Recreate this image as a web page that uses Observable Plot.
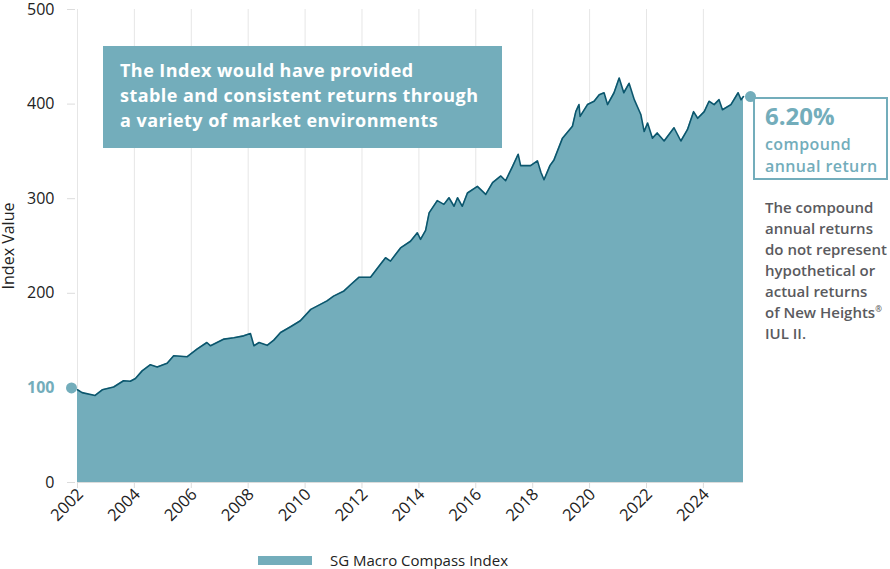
<!DOCTYPE html>
<html><head><meta charset="utf-8">
<script src="https://cdn.jsdelivr.net/npm/d3@7"></script>
<script src="https://cdn.jsdelivr.net/npm/@observablehq/plot@0.6"></script>
<style>
body{margin:0;background:#fff;font-family:"Open Sans",sans-serif;}
#wrap{position:relative;width:890px;height:569px;overflow:hidden;}
#wrap svg{display:block;}
.box1{position:absolute;left:103px;top:46px;width:382px;height:102px;padding-left:17px;background:#73adbb;color:#fff;font-weight:700;font-size:18px;letter-spacing:0.45px;line-height:25px;box-sizing:content-box;white-space:nowrap;}
.box1 .in{padding-top:12px;}
.box2{position:absolute;left:753px;top:97px;width:131px;height:79px;border:2px solid #73adbb;color:#73adbb;}
.box2 .pct{position:absolute;left:10px;top:3px;font-size:24px;font-weight:700;line-height:28px;}
.box2 .sub{position:absolute;left:10px;top:34px;font-size:16px;letter-spacing:0.4px;font-weight:600;line-height:22px;white-space:nowrap;}
.note{position:absolute;left:765px;top:197px;font-size:15px;font-weight:600;line-height:21px;color:#5a5a5e;white-space:nowrap;}
.legend{position:absolute;left:258px;top:552px;height:17px;display:flex;align-items:center;font-size:15px;line-height:17px;color:#222;}
.legend .sw{width:54px;height:9px;background:#73adbb;margin-right:18px;}
</style></head><body><div id="wrap"></div>
<script>
const seriesName = "SG Macro Compass Index";
const yLabel = "Index Value";
const startValue = 100;
const cagrText = "6.20%";
const yTicks = [0, 200, 300, 400, 500];
const yHighlightTick = [100];
const xTickYears = [2002, 2004, 2006, 2008, 2010, 2012, 2014, 2016, 2018, 2020, 2022, 2024];
const dates = [
"2002-01-01","2002-03-01","2002-08-15","2002-11-15","2003-04-10","2003-08-15","2003-11-10","2004-01-15","2004-04-10","2004-07-25",
"2004-10-20","2005-02-25","2005-05-20","2005-11-10","2006-03-15","2006-07-20","2006-09-05","2007-02-25","2007-07-01","2007-11-05",
"2008-01-30","2008-03-15","2008-05-20","2008-09-01","2008-11-25","2009-02-20","2009-06-28","2009-11-01","2010-03-15","2010-07-10",
"2010-10-10","2011-01-01","2011-05-15","2011-08-08","2011-11-25","2012-04-20","2012-08-28","2012-10-30","2013-01-01","2013-05-10",
"2013-09-15","2013-12-12","2014-01-22","2014-03-28","2014-05-12","2014-08-25","2014-11-18","2015-01-22","2015-03-28","2015-05-12",
"2015-07-12","2015-09-16","2016-01-22","2016-05-08","2016-08-04","2016-11-18","2017-01-18","2017-04-16","2017-06-28","2017-07-30",
"2017-12-05","2018-03-03","2018-04-16","2018-05-26","2018-08-10","2018-10-01","2019-01-18","2019-05-26","2019-07-08","2019-08-18",
"2019-09-01","2019-12-05","2020-02-28","2020-05-04","2020-07-05","2020-08-18","2020-11-10","2021-01-15","2021-03-15","2021-05-22",
"2021-07-28","2021-10-20","2021-12-02","2022-01-15","2022-03-18","2022-05-18","2022-08-15","2022-12-20","2023-03-18","2023-06-10",
"2023-08-28","2023-10-20","2024-01-12","2024-03-14","2024-05-18","2024-07-20","2024-09-02","2024-12-20","2025-03-22","2025-04-28",
"2025-05-30"];
const values = [
98,95,92,98,101,107.6,107,110,118,124.5,
122,126,134,133,141,148,144.5,151.6,153,155,
157.5,144.5,148,145,150.5,158.5,164.6,171,183,188,
192,197,202.5,209,217,217,231,237.6,234,248,
255,264,257,266.5,285,298,294,301,292,301,
292,306,313,304.5,317,324,319,334,347,335,
335,340,328,320,335,341,364,376.6,392,399.5,
387,399.5,403,410,412,399.5,412,427.5,412,422,
404.7,389,371,380,364,369.5,361,375,361,373,
392,385,392,403,399.5,404.7,394,399.5,412,404.7,
408];

const teal = "#73adbb";
const data = dates.map((d, i) => ({date: new Date(d + "T00:00:00Z"), value: values[i]}));
const tickDates = xTickYears.map(y => new Date(Date.UTC(y, 0, 1)));
const first = data[0], last = data[data.length - 1];

const chart = Plot.plot({
  width: 890, height: 548,
  marginLeft: 77, marginRight: 147, marginTop: 9, marginBottom: 66,
  style: {fontFamily: "Open Sans", fontSize: "15px", color: "#222", background: "transparent", overflow: "visible"},
  x: {type: "utc", domain: [first.date, last.date]},
  y: {domain: [0, 500]},
  marks: [
    Plot.gridX(tickDates, {stroke: "#e6e6e6", strokeOpacity: 1}),
    Plot.areaY(data, {x: "date", y: "value", fill: teal}),
    Plot.lineY(data, {x: "date", y: "value", stroke: "#0b566d", strokeWidth: 1.6}),
    Plot.ruleY([0], {stroke: "#dcdcdc"}),
    Plot.axisX({ticks: tickDates, text: null, tickSize: 6, stroke: "#dcdcdc", label: null}),
    Plot.axisX({ticks: tickDates, tickSize: 0, tickPadding: 9, tickRotate: -45, tickFormat: d => String(d.getUTCFullYear()), fill: "#222", fontSize: 16.5, dx: 3, label: null}),
    Plot.axisY([...yTicks, ...yHighlightTick], {text: null, tickSize: 8, stroke: "#dcdcdc", dx: -2, label: null}),
    Plot.axisY({ticks: yTicks, tickSize: 0, tickPadding: 23, fill: "#222", fontSize: 16, label: yLabel, labelAnchor: "center", labelArrow: false, labelOffset: 75, fontSize: 16}),
    Plot.axisY({ticks: yHighlightTick, tickSize: 0, tickPadding: 23, fill: teal, fontSize: 16, fontWeight: "bold", label: null}),
    Plot.dot([first], {x: "date", y: () => startValue, r: 5.5, fill: teal, dx: -6}),
    Plot.dot([last], {x: "date", y: "value", r: 5.5, fill: teal, dx: 7})
  ]
});

const wrap = document.getElementById("wrap");
wrap.appendChild(chart);
wrap.insertAdjacentHTML("beforeend", `
<div class="box1"><div class="in">The Index would have provided<br>stable and consistent returns through<br>a variety of market environments</div></div>
<div class="box2"><div class="pct">${cagrText}</div><div class="sub">compound<br>annual return</div></div>
<div class="note">The compound<br>annual returns<br>do not represent<br>hypothetical or<br>actual returns<br>of New Heights<sup style="font-size:8px;vertical-align:6px;line-height:0">®</sup><br>IUL II.</div>
<div class="legend"><div class="sw"></div><div>${seriesName}</div></div>
`);
</script>
</body></html>
